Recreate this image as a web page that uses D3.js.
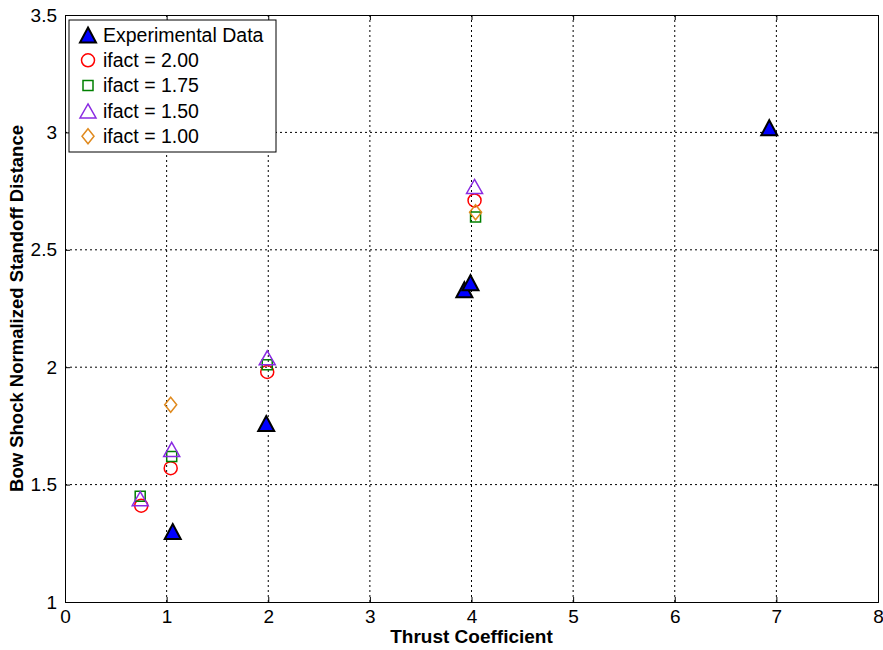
<!DOCTYPE html>
<html>
<head>
<meta charset="utf-8">
<script src="https://cdn.jsdelivr.net/npm/d3@7"></script>
<style>
body { margin: 0; background: #fff; }
text { font-family: Arial, "Liberation Sans", sans-serif; }
</style>
</head>
<body>
<div class="chart"></div>
<script>
// data
var expX = [1.06, 1.98, 3.93, 3.99, 6.93];
var expY = [1.30, 1.76, 2.33, 2.36, 3.02];
var if200X = [0.75, 1.04, 1.99, 4.03];
var if200Y = [1.41, 1.57, 1.98, 2.71];
var if175X = [0.74, 1.05, 1.99, 4.04];
var if175Y = [1.45, 1.62, 2.01, 2.64];
var if150X = [0.74, 1.05, 1.99, 4.03];
var if150Y = [1.44, 1.65, 2.04, 2.77];
var if100X = [1.04, 4.04];
var if100Y = [1.84, 2.66];
var xTicks = [0, 1, 2, 3, 4, 5, 6, 7, 8];
var yTicks = [1, 1.5, 2, 2.5, 3, 3.5];
var legendLabels = ["Experimental Data", "ifact = 2.00", "ifact = 1.75", "ifact = 1.50", "ifact = 1.00"];

// set the dimensions and margins of the graph
var margin = {top: 15, right: 5, bottom: 48, left: 65},
    width = 883 - margin.left - margin.right,
    height = 650 - margin.top - margin.bottom;

var x = d3.scaleLinear().domain([0, 8]).range([0, width]);
var y = d3.scaleLinear().domain([1, 3.5]).range([height, 0]);

var svg = d3.select(".chart").append("svg")
    .attr("width", 883)
    .attr("height", 650)
    .append("g")
    .attr("transform", "translate(" + margin.left + "," + margin.top + ")");

// dotted grid
svg.append("g").selectAll("line").data(xTicks.slice(1, -1)).enter().append("line")
    .attr("x1", function(d){ return x(d); }).attr("x2", function(d){ return x(d); })
    .attr("y1", 0).attr("y2", height)
    .attr("stroke", "#000").attr("stroke-width", 1).attr("stroke-dasharray", "2,3");
svg.append("g").selectAll("line").data(yTicks.slice(1, -1)).enter().append("line")
    .attr("y1", function(d){ return y(d); }).attr("y2", function(d){ return y(d); })
    .attr("x1", 0).attr("x2", width)
    .attr("stroke", "#000").attr("stroke-width", 1).attr("stroke-dasharray", "2,3");

// axes (ticks pointing inward like matlab)
var xAxis = d3.axisBottom(x).tickValues(xTicks).tickSize(-5).tickPadding(8).tickFormat(d3.format("d"));
var gx = svg.append("g").attr("transform", "translate(0," + height + ")").call(xAxis);
var yAxis = d3.axisLeft(y).tickValues(yTicks).tickSize(-5).tickPadding(8).tickFormat(function(d){ return d3.format("")(d); });
var gy = svg.append("g").call(yAxis);
svg.append("g").call(d3.axisTop(x).tickValues(xTicks).tickSize(-5).tickFormat(""));
svg.append("g").attr("transform", "translate(" + width + ",0)")
    .call(d3.axisRight(y).tickValues(yTicks).tickSize(-5).tickFormat(""));
svg.selectAll(".domain").attr("stroke", "#000");
svg.selectAll(".tick line").attr("stroke", "#000");
gx.selectAll("text").attr("font-size", 19).attr("fill", "#000");
gy.selectAll("text").attr("font-size", 19).attr("fill", "#000");

// axis titles
svg.append("text")
    .text("Thrust Coefficient")
    .attr("font-size", 19).attr("font-weight", "bold")
    .attr("text-anchor", "middle")
    .attr("transform", "translate(" + width / 2 + "," + (height + 41) + ")");
svg.append("text")
    .text("Bow Shock Normalized Standoff Distance")
    .attr("font-size", 18.5).attr("font-weight", "bold")
    .attr("text-anchor", "middle")
    .attr("transform", "translate(-42," + (height / 2) + ") rotate(-90)");

// marker shapes
function triPath(w, h) {
    return "M0," + (-h / 2) + "L" + (w / 2) + "," + (h / 2) + "L" + (-w / 2) + "," + (h / 2) + "Z";
}
function diaPath(w, h) {
    return "M0," + (-h / 2) + "L" + (w / 2) + ",0L0," + (h / 2) + "L" + (-w / 2) + ",0Z";
}
var styles = [
    {d: triPath(16, 15), fill: "#0000ff", stroke: "#000", sw: 2},
    {d: null, r: 6.5, fill: "none", stroke: "#ff0000", sw: 1.5},
    {d: "M-5,-5H5V5H-5Z", fill: "none", stroke: "#008000", sw: 1.5},
    {d: triPath(16, 14), fill: "none", stroke: "#8a2be2", sw: 1.5},
    {d: diaPath(12, 15), fill: "none", stroke: "#e08a1e", sw: 1.5}
];

function marker(g, s) {
    if (s.d) {
        g.append("path").attr("d", s.d);
    } else {
        g.append("circle").attr("r", s.r);
    }
    g.selectAll("*").attr("fill", s.fill).attr("stroke", s.stroke).attr("stroke-width", s.sw);
}

var series = [
    [expX, expY], [if200X, if200Y], [if175X, if175Y], [if150X, if150Y], [if100X, if100Y]
];
series.forEach(function(sr, i) {
    var pts = sr[0].map(function(v, j){ return [v, sr[1][j]]; });
    svg.append("g").selectAll("g").data(pts).enter().append("g")
        .attr("transform", function(d){ return "translate(" + x(d[0]) + "," + y(d[1]) + ")"; })
        .each(function(){ marker(d3.select(this), styles[i]); });
});

// legend
var leg = svg.append("g").attr("transform", "translate(4,5)");
leg.append("rect").attr("width", 207).attr("height", 132)
    .attr("fill", "#fff").attr("stroke", "#000").attr("stroke-width", 1);
legendLabels.forEach(function(lab, i) {
    var row = leg.append("g").attr("transform", "translate(19," + (15 + i * 25.3) + ")");
    marker(row.append("g"), styles[i]);
    row.append("text").text(lab).attr("x", 15).attr("dy", "0.35em")
        .attr("font-size", 19.5).attr("fill", "#000");
});
</script>
</body>
</html>
